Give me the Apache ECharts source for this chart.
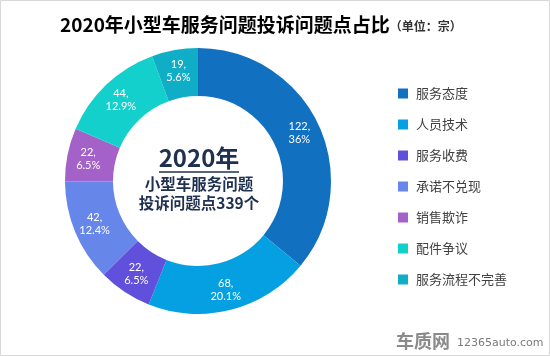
<!DOCTYPE html>
<html>
<head>
<meta charset="utf-8">
<script src="https://cdn.jsdelivr.net/npm/echarts@6/dist/echarts.min.js"></script>
<style>
html,body{margin:0;padding:0;background:#fff;}
#c{width:550px;height:356px;}
</style>
</head>
<body>
<div id="c"></div>
<script>
var categories = ['服务态度','人员技术','服务收费','承诺不兑现','销售欺诈','配件争议','服务流程不完善'];
var values = [122, 68, 22, 42, 22, 44, 19];
var pctLabels = ['36%','20.1%','6.5%','12.4%','6.5%','12.9%','5.6%'];
var colors = ['#1170C0','#04A0E2','#6050DC','#6686EA','#A461C8','#14D0CC','#10AEC6'];
var titleText = '2020年小型车服务问题投诉问题点占比';
var unitText = '（单位：宗）';
var centerLines = ['2020年','小型车服务问题','投诉问题点339个'];

var chart = echarts.init(document.getElementById('c'));
var data = categories.map(function(n,i){return {name:n,value:values[i],pct:pctLabels[i]};});
chart.setOption({
  animation:false,
  color: colors,
  title:{
    left:55, top:10,
    text:'{a|'+titleText+'}{b|'+unitText+'}',
    textStyle:{rich:{
      a:{fontSize:19,fontWeight:'bold',color:'#000',fontFamily:'Noto Sans CJK SC'},
      b:{fontSize:12,color:'#333',fontFamily:'Noto Sans CJK SC',padding:[3,0,0,0]}
    }}
  },
  legend:{
    orient:'vertical', left:393, top:82,
    itemWidth:10, itemHeight:10, itemGap:18,
    icon:'rect',
    textStyle:{fontSize:13,color:'#404040',fontFamily:'Noto Sans CJK SC',padding:[0,0,0,3]},
    data:categories
  },
  series:[{
    type:'pie',
    center:[198,181],
    radius:[85,133],
    startAngle:90,
    clockwise:true,
    label:{
      show:true, position:'inside',
      color:'#fff', fontSize:11, lineHeight:13,
      fontFamily:'Lato, sans-serif',
      formatter:function(p){return p.data.value+',\n'+p.data.pct;}
    },
    labelLine:{show:false},
    emphasis:{disabled:true},
    data:data
  }],
  graphic:[
    {type:'rect',shape:{x:0.5,y:0.5,width:549,height:355},style:{fill:'none',stroke:'#d8d8d8',lineWidth:1}},
    {type:'text',x:199,y:158,style:{text:centerLines[0],fill:'#1F3050',font:'bold 24px "Noto Sans CJK SC"',textAlign:'center',textVerticalAlign:'middle'}},
    {type:'line',shape:{x1:159,y1:172,x2:239,y2:172},style:{stroke:'#1F3050',lineWidth:1.5}},
    {type:'text',x:199,y:184,style:{text:centerLines[1],fill:'#1F3050',font:'bold 15.5px "Noto Sans CJK SC"',textAlign:'center',textVerticalAlign:'middle'}},
    {type:'text',x:199,y:203,style:{text:centerLines[2],fill:'#1F3050',font:'bold 15.5px "Noto Sans CJK SC"',textAlign:'center',textVerticalAlign:'middle'}},
    {type:'text',x:396,y:341,style:{text:'车质网',fill:'#8a8a8a',font:'bold 18px "Noto Sans CJK SC"',textVerticalAlign:'middle'}},
    {type:'text',x:457,y:343,style:{text:'12365auto.com',fill:'#7a7a7a',font:'11px "DejaVu Sans"',textVerticalAlign:'middle'}}
  ]
});
</script>
</body>
</html>
